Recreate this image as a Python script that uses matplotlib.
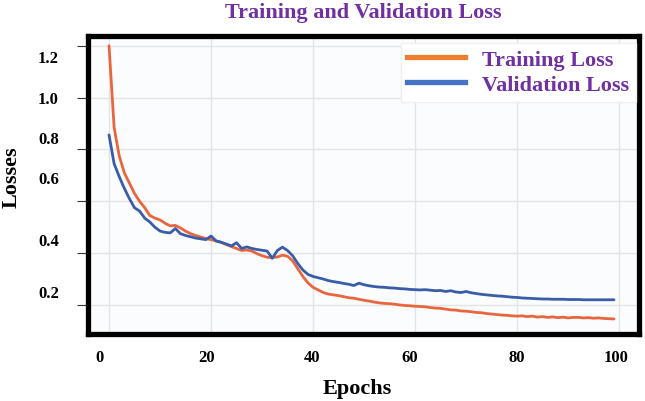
import matplotlib
matplotlib.use('Agg')
import matplotlib.pyplot as plt
from matplotlib.lines import Line2D
from matplotlib.ticker import FixedLocator, FixedFormatter, NullFormatter

# ---- data ----
epochs = list(range(100))
train_loss = [1.200, 0.885, 0.775, 0.710, 0.670, 0.630, 0.600, 0.575, 0.545, 0.535,
              0.528, 0.515, 0.505, 0.507, 0.497, 0.485, 0.475, 0.468, 0.462, 0.456,
              0.452, 0.447, 0.441, 0.433, 0.425, 0.418, 0.410, 0.412, 0.408, 0.398,
              0.390, 0.384, 0.383, 0.385, 0.392, 0.388, 0.370, 0.340, 0.310, 0.285,
              0.268, 0.258, 0.248, 0.242, 0.239, 0.236, 0.232, 0.228, 0.226, 0.222,
              0.218, 0.215, 0.211, 0.208, 0.206, 0.205, 0.203, 0.200, 0.198, 0.197,
              0.195, 0.194, 0.193, 0.190, 0.188, 0.187, 0.184, 0.181, 0.180, 0.177,
              0.176, 0.174, 0.171, 0.170, 0.167, 0.165, 0.163, 0.161, 0.160, 0.158,
              0.157, 0.158, 0.155, 0.157, 0.153, 0.155, 0.152, 0.154, 0.151, 0.153,
              0.150, 0.152, 0.152, 0.150, 0.151, 0.149, 0.150, 0.148, 0.147, 0.146]
val_loss = [0.856, 0.745, 0.695, 0.650, 0.610, 0.575, 0.562, 0.535, 0.520, 0.500,
            0.485, 0.480, 0.478, 0.495, 0.475, 0.468, 0.463, 0.458, 0.455, 0.452,
            0.466, 0.447, 0.442, 0.435, 0.428, 0.440, 0.418, 0.424, 0.418, 0.414,
            0.411, 0.408, 0.380, 0.410, 0.423, 0.410, 0.390, 0.360, 0.335, 0.318,
            0.310, 0.305, 0.300, 0.294, 0.290, 0.287, 0.283, 0.280, 0.275, 0.284,
            0.278, 0.274, 0.271, 0.269, 0.268, 0.266, 0.265, 0.263, 0.262, 0.260,
            0.259, 0.258, 0.259, 0.257, 0.255, 0.256, 0.252, 0.255, 0.250, 0.248,
            0.252, 0.247, 0.244, 0.241, 0.239, 0.237, 0.235, 0.234, 0.232, 0.230,
            0.229, 0.227, 0.226, 0.225, 0.224, 0.223, 0.223, 0.222, 0.222, 0.222,
            0.221, 0.221, 0.221, 0.220, 0.220, 0.220, 0.220, 0.220, 0.220, 0.220]
series_names = ['Training Loss', 'Validation Loss']
x_tick_labels = ['0', '20', '40', '60', '80', '100']
y_tick_labels = ['1.2', '1.0', '0.8', '0.6', '0.4', '0.2']
title_text = 'Training and Validation Loss'
x_label_text = 'Epochs'
y_label_text = 'Losses'

# ---- layout (positions of grid and labels as drawn in the reference) ----
x_grid = [0, 20, 40, 60, 80, 100]
y_grid = [0.2, 0.4, 0.6, 0.8, 1.0, 1.2]
x_label_pos = [-1.8, 19.1, 39.8, 59.0, 79.9, 99.5]
y_label_pos = [1.162, 1.001, 0.847, 0.693, 0.455, 0.255]

plt.rcParams['font.family'] = ['Liberation Serif', 'DejaVu Serif']
plt.rcParams['font.weight'] = 'bold'

W, H = 645, 402
fig = plt.figure(figsize=(W / 100, H / 100), dpi=100)
L, R, T, B = 88, 639, 37, 335
ax = fig.add_axes([L / W, 1 - B / H, (R - L) / W, (B - T) / H])
ax.set_facecolor('#fbfcfe')

ax.plot(epochs, train_loss, color='#e8663e', lw=2.0, zorder=3, solid_capstyle='round')
ax.plot(epochs, val_loss, color='#3b5ca8', lw=2.0, zorder=4, solid_capstyle='round')

ax.set_xlim(-4.12, 103.9)
ax.set_ylim(0.088, 1.2375)

# gridlines via major ticks, labels via minor ticks
ax.xaxis.set_major_locator(FixedLocator(x_grid))
ax.xaxis.set_major_formatter(NullFormatter())
ax.xaxis.set_minor_locator(FixedLocator(x_label_pos))
ax.xaxis.set_minor_formatter(FixedFormatter(x_tick_labels))
ax.yaxis.set_major_locator(FixedLocator(y_grid))
ax.yaxis.set_major_formatter(NullFormatter())
ax.yaxis.set_minor_locator(FixedLocator(y_label_pos))
ax.yaxis.set_minor_formatter(FixedFormatter(y_tick_labels))

ax.tick_params(axis='x', which='major', length=0)
ax.tick_params(axis='x', which='minor', length=0, pad=11, labelsize=12)
ax.tick_params(axis='y', which='major', length=8, width=0.8, color='#333333')
ax.tick_params(axis='y', which='minor', length=0, pad=21, labelsize=12)
for lab in ax.get_xticklabels(minor=True) + ax.get_yticklabels(minor=True):
    lab.set_fontweight('bold')

ax.grid(True, which='major', color='#e4e4e4', lw=1.0, zorder=0)
for s in ax.spines.values():
    s.set_linewidth(3.8)
    s.set_color('black')

ax.set_title(title_text, color='#7030a0', fontsize=16, fontweight='bold', pad=14)
ax.set_xlabel(x_label_text, fontsize=16, fontweight='bold')
ax.xaxis.set_label_coords((357 - L) / (R - L), (B - 379) / (B - T))
ax.set_ylabel(y_label_text, fontsize=16, fontweight='bold')
ax.yaxis.set_label_coords((22 - L) / (R - L), (B - 177) / (B - T))

handles = [Line2D([], [], color='#ed7d31', lw=3.8),
           Line2D([], [], color='#4472c4', lw=3.8)]
leg = ax.legend(handles, series_names, loc='upper right', bbox_to_anchor=(1.0, 0.988),
                fontsize=16, frameon=True, fancybox=False, framealpha=1,
                edgecolor='#f0f0f0', facecolor='white', handlelength=2.6,
                handletextpad=0.75, labelspacing=0.2, borderpad=0.3, borderaxespad=0.15)
for t in leg.get_texts():
    t.set_color('#7030a0')
    t.set_fontweight('bold')
leg.set_zorder(5)

fig.savefig('out.png', dpi=100)
